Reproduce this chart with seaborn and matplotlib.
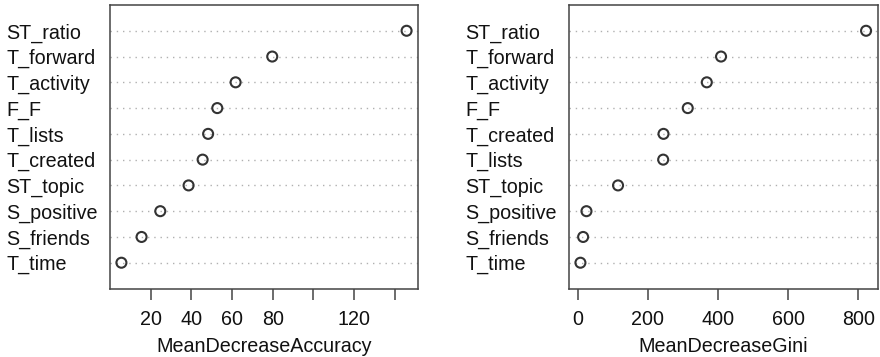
import matplotlib
matplotlib.use("Agg")
import matplotlib.pyplot as plt
import seaborn as sns
import pandas as pd

acc_features = ["ST_ratio", "T_forward", "T_activity", "F_F", "T_lists", "T_created",
                "ST_topic", "S_positive", "S_friends", "T_time"]
acc_values = [145.8, 79.8, 61.8, 52.8, 48.3, 45.6, 38.7, 24.8, 15.6, 5.7]
acc_ticks = [20, 40, 60, 80, 100, 120, 140]
acc_ticklabels = ["20", "40", "60", "80", "", "120", ""]

gini_features = ["ST_ratio", "T_forward", "T_activity", "F_F", "T_created", "T_lists",
                 "ST_topic", "S_positive", "S_friends", "T_time"]
gini_values = [822, 408.6, 368, 313.7, 244.6, 243.7, 115, 25, 15.5, 7.8]
gini_ticks = [0, 200, 400, 600, 800]
gini_ticklabels = ["0", "200", "400", "600", "800"]

sns.set_theme(style="white")
plt.rcParams['font.family'] = ['Liberation Sans', 'DejaVu Sans']

fig = plt.figure(figsize=(8.8, 3.57), dpi=100)
W, H = 880, 357
ax1 = fig.add_axes([110 / W, (H - 288.5) / H, 308 / W, 283.5 / H])
ax2 = fig.add_axes([569 / W, (H - 288.5) / H, 308.5 / W, 283.5 / H])

panels = [
    (ax1, acc_features, acc_values, acc_ticks, acc_ticklabels, "MeanDecreaseAccuracy"),
    (ax2, gini_features, gini_values, gini_ticks, gini_ticklabels, "MeanDecreaseGini"),
]

FS = 14.2
for ax, feats, vals, ticks, tlabels, xlabel in panels:
    df = pd.DataFrame({"feature": feats, "value": vals})
    sns.stripplot(data=df, x="value", y="feature", order=feats, jitter=False, ax=ax,
                  marker="o", size=7.2, facecolor="none", edgecolor="#333333",
                  linewidth=1.5, color="none", zorder=3)
    for coll in ax.collections:
        coll.set_facecolor("none")
        coll.set_edgecolor("#333333")
        coll.set_linewidth(1.5)
    lo, hi = min(vals), max(vals)
    pad = 0.04 * (hi - lo)
    ax.set_xlim(lo - pad, hi + pad)
    ax.set_ylim(len(feats), -1)
    ax.grid(axis="y", linestyle=(0, (1, 3.5)), color="#b0b0b0", linewidth=1.0)
    ax.grid(axis="x", visible=False)
    ax.set_xticks(ticks)
    ax.set_xticklabels(tlabels, fontsize=FS, color="#111111")
    ax.tick_params(axis="x", direction="out", length=8, width=1.1, color="#444444",
                   pad=7.5, bottom=True)
    ax.tick_params(axis="y", length=0, pad=74.5, labelsize=FS, labelcolor="#111111")
    for lab in ax.get_yticklabels():
        lab.set_horizontalalignment("left")
    ax.set_ylabel("")
    ax.set_xlabel(xlabel, fontsize=FS, color="#111111", labelpad=6)
    for sp in ax.spines.values():
        sp.set_visible(True)
        sp.set_color("#444444")
        sp.set_linewidth(1.1)

fig.savefig("out.png", dpi=100, facecolor="white")
